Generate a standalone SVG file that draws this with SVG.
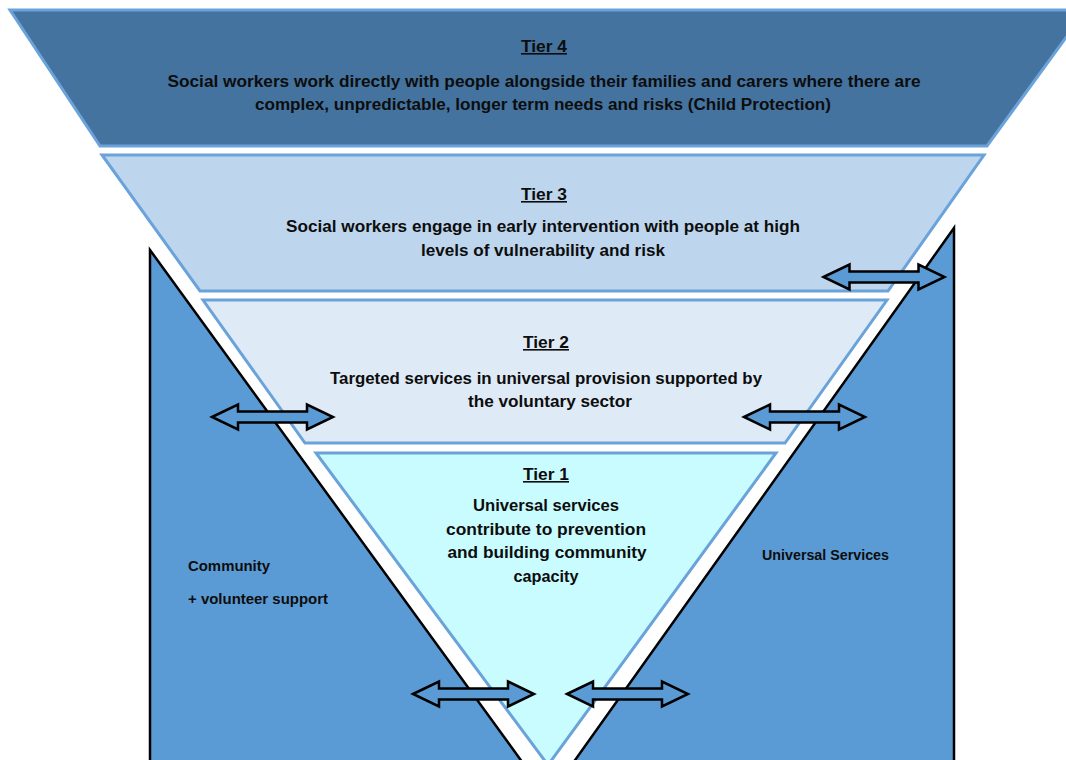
<svg xmlns="http://www.w3.org/2000/svg" xmlns:xlink="http://www.w3.org/1999/xlink" width="1066" height="760" viewBox="0 0 1066 760">
  <style>
    .side { fill: #5b9bd5; stroke: #000; stroke-width: 2.5; stroke-linejoin: miter; }
    .tier { stroke: #6aa2da; stroke-width: 3; stroke-linejoin: miter; }
    .t4 { fill: #44739f; }
    .t3 { fill: #bdd6ee; }
    .t2 { fill: #deeaf6; }
    .t1 { fill: #c9fcff; }
    text { font-family: "Liberation Sans", Arial, sans-serif; font-weight: bold; font-size: 16px; fill: #0d0d0d; text-anchor: middle; }
    .head { text-decoration: underline; }
    .lbl { text-anchor: start; font-size: 15px; }
    .dbl { fill: #5b9bd5; stroke: #000; stroke-width: 2.5; stroke-linejoin: miter; }
  </style>
  <defs>
    <!-- two-headed block arrow, centred on its origin -->
    <path id="dblArrow" class="dbl" d="M-60.5,0 L-34.5,-12.5 L-34.5,-5.5 L34.5,-5.5 L34.5,-12.5 L60.5,0 L34.5,12.5 L34.5,5.5 L-34.5,5.5 L-34.5,12.5 Z"/>
  </defs>

  <rect width="1066" height="760" fill="#fff"/>

  <!-- outer support areas either side of the funnel -->
  <g id="community">
    <polygon class="side" points="150,250 528,770 150,770"/>
    <text class="lbl" x="188" y="571" textLength="82" lengthAdjust="spacingAndGlyphs">Community</text>
    <text class="lbl" x="188" y="604" textLength="140" lengthAdjust="spacingAndGlyphs">+ volunteer support</text>
  </g>
  <g id="universal-services">
    <polygon class="side" points="954,228 954,770 568,770"/>
    <text class="lbl" x="762" y="560" textLength="127" lengthAdjust="spacingAndGlyphs">Universal Services</text>
  </g>

  <!-- funnel tiers -->
  <g id="tier4">
    <polygon class="tier t4" points="10,10 1086,10 987,146 100,146"/>
    <text class="head" x="544" y="52" textLength="46" lengthAdjust="spacingAndGlyphs">Tier 4</text>
    <text x="544" y="87" textLength="753" lengthAdjust="spacingAndGlyphs">Social workers work directly with people alongside their families and carers where there are</text>
    <text x="543" y="110" textLength="576" lengthAdjust="spacingAndGlyphs">complex, unpredictable, longer term needs and risks (Child Protection)</text>
  </g>
  <g id="tier3">
    <polygon class="tier t3" points="102,155 984,155 888,291 200,291"/>
    <text class="head" x="544" y="200" textLength="46" lengthAdjust="spacingAndGlyphs">Tier 3</text>
    <text x="543" y="232" textLength="514" lengthAdjust="spacingAndGlyphs">Social workers engage in early intervention with people at high</text>
    <text x="543" y="256" textLength="244" lengthAdjust="spacingAndGlyphs">levels of vulnerability and risk</text>
  </g>
  <g id="tier2">
    <polygon class="tier t2" points="203,300 887,300 785,443 305,443"/>
    <text class="head" x="546" y="348" textLength="46" lengthAdjust="spacingAndGlyphs">Tier 2</text>
    <text x="546" y="384" textLength="432" lengthAdjust="spacingAndGlyphs">Targeted services in universal provision supported by</text>
    <text x="550" y="407" textLength="164" lengthAdjust="spacingAndGlyphs">the voluntary sector</text>
  </g>
  <g id="tier1">
    <polygon class="tier t1" points="316,453 776,453 548,765"/>
    <text class="head" x="546" y="480" textLength="46" lengthAdjust="spacingAndGlyphs">Tier 1</text>
    <text x="546" y="511" textLength="146" lengthAdjust="spacingAndGlyphs">Universal services</text>
    <text x="546" y="535" textLength="200" lengthAdjust="spacingAndGlyphs">contribute to prevention</text>
    <text x="547" y="558" textLength="199" lengthAdjust="spacingAndGlyphs">and building community</text>
    <text x="546" y="582" textLength="65" lengthAdjust="spacingAndGlyphs">capacity</text>
  </g>

  <!-- two-way links between tiers and outer support -->
  <g id="connectors">
    <use xlink:href="#dblArrow" href="#dblArrow" transform="translate(884,277)"/>
    <use xlink:href="#dblArrow" href="#dblArrow" transform="translate(272.5,417)"/>
    <use xlink:href="#dblArrow" href="#dblArrow" transform="translate(804.5,417)"/>
    <use xlink:href="#dblArrow" href="#dblArrow" transform="translate(473.5,694)"/>
    <use xlink:href="#dblArrow" href="#dblArrow" transform="translate(627.5,694)"/>
  </g>
</svg>
